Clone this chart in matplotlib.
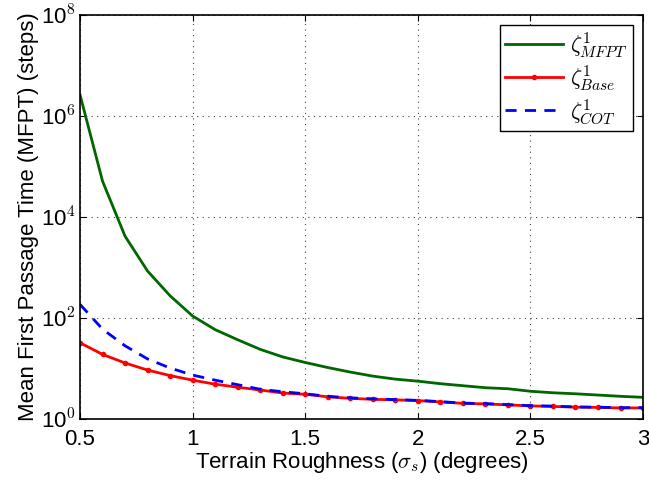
import matplotlib
matplotlib.use('Agg')
import matplotlib.pyplot as plt
import numpy as np

plt.rcParams['font.family'] = ['Liberation Sans', 'DejaVu Sans']
plt.rcParams['mathtext.fontset'] = 'cm'

# terrain roughness sigma_s (degrees)
roughness = [0.5, 0.6, 0.7, 0.8, 0.9, 1.0, 1.1, 1.2, 1.3, 1.4, 1.5,
             1.6, 1.7, 1.8, 1.9, 2.0, 2.1, 2.2, 2.3, 2.4, 2.5,
             2.6, 2.7, 2.8, 2.9, 3.0]

# log10 of MFPT
logMFPT = [6.42, 4.71, 3.62, 2.93, 2.44, 2.04, 1.77, 1.57, 1.38, 1.23, 1.12,
           1.02, 0.93, 0.85, 0.79, 0.75, 0.70, 0.66, 0.62, 0.60, 0.55,
           0.52, 0.50, 0.475, 0.45, 0.43]
logBase = [1.51, 1.28, 1.11, 0.97, 0.86, 0.77, 0.69, 0.63, 0.575, 0.515, 0.49,
           0.44, 0.41, 0.39, 0.38, 0.365, 0.34, 0.31, 0.30, 0.28, 0.26,
           0.25, 0.235, 0.23, 0.22, 0.22]
logCOT = [2.27, 1.78, 1.45, 1.19, 1.01, 0.87, 0.77, 0.68, 0.59, 0.54, 0.50,
          0.45, 0.42, 0.40, 0.385, 0.37, 0.345, 0.315, 0.305, 0.285, 0.265,
          0.255, 0.24, 0.235, 0.225, 0.225]

mfpt = 10 ** np.array(logMFPT)
base = 10 ** np.array(logBase)
cot = 10 ** np.array(logCOT)

fig = plt.figure(figsize=(6.49, 4.8), dpi=100)
ax = fig.add_axes([0.1233, 0.127, 0.8675, 0.8417])

ax.semilogy(roughness, mfpt, color=(0, 0.4, 0), lw=2, label=r'$\zeta^1_{MFPT}$')
ax.semilogy(roughness, base, color='red', lw=2, marker='.', markersize=6,
            label=r'$\zeta^1_{Base}$')
ax.semilogy(roughness, cot, color='blue', lw=2, ls=(0, (4, 3)),
            label=r'$\zeta^1_{COT}$')

ax.set_xlim(0.5, 3)
ax.set_ylim(1, 1e8)
ax.set_xticks([0.5, 1, 1.5, 2, 2.5, 3])
ax.set_xticklabels(['0.5', '1', '1.5', '2', '2.5', '3'])
ax.set_yticks([1, 1e2, 1e4, 1e6, 1e8])
ax.set_yticklabels([r'10$^0$', r'10$^2$', r'10$^4$', r'10$^6$', r'10$^8$'])
ax.minorticks_off()
ax.tick_params(direction='in', top=True, right=True, length=4, labelsize=16)
ax.tick_params(axis='x', pad=7)
ax.tick_params(axis='y', pad=3)
ax.grid(True, ls=(0, (1, 4)), color='#444444', lw=0.8)
for s in ax.spines.values():
    s.set_linewidth(1.2)

ax.set_xlabel(r'Terrain Roughness ($\sigma_s$) (degrees)', fontsize=16, labelpad=0)
ax.set_ylabel('Mean First Passage Time (MFPT) (steps)', fontsize=16, labelpad=1)

leg = ax.legend(loc='upper right', fontsize=16, fancybox=False, framealpha=1,
                edgecolor='black', handlelength=2.6, borderpad=0.25,
                labelspacing=0.15, handletextpad=0.3, borderaxespad=0.45)
leg.get_frame().set_linewidth(1.0)

fig.savefig('out.png', dpi=100)
